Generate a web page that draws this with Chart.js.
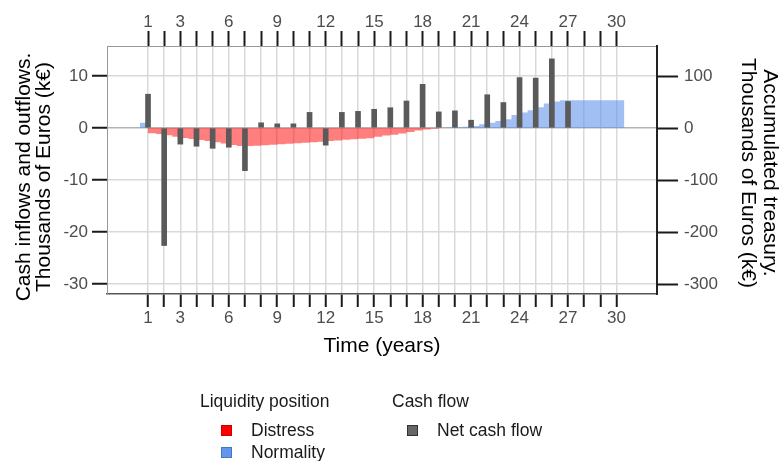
<!DOCTYPE html>
<html>
<head>
<meta charset="utf-8">
<script src="https://cdn.jsdelivr.net/npm/chart.js@4.4.1/dist/chart.umd.min.js"></script>
<style>
html,body{margin:0;padding:0;background:#fff;}
#wrap{position:relative;width:784px;height:461px;font-family:'Liberation Sans',Arial,sans-serif;overflow:hidden;}
#c{position:absolute;left:0;top:0;}
.lg{position:absolute;font-size:17.5px;line-height:20px;color:#1a1a1a;white-space:nowrap;}
.sw{position:absolute;width:11px;height:11px;box-sizing:border-box;}
</style>
</head>
<body>
<div id="wrap">
<canvas id="c" width="784" height="461"></canvas>
<div class="lg" style="left:200px;top:391px">Liquidity position</div>
<div class="lg" style="left:392px;top:391px">Cash flow</div>
<div class="sw" style="left:221px;top:425px;background:#ff0000;border:1px solid #c00"></div>
<div class="lg" style="left:251px;top:420px">Distress</div>
<div class="sw" style="left:221px;top:447px;background:#6495ed;border:1px solid #4a75c0"></div>
<div class="lg" style="left:251px;top:442px">Normality</div>
<div class="sw" style="left:407px;top:425px;background:#666666;border:1px solid #333"></div>
<div class="lg" style="left:437px;top:420px">Net cash flow</div>
</div>
<script>
// ---- data ----
const years = [1,2,3,4,5,6,7,8,9,10,11,12,13,14,15,16,17,18,19,20,21,22,23,24,25,26,27];
const netCashFlow = [6.5,-22.6,-3.1,-3.5,-3.9,-3.7,-8.2,1.0,0.8,0.8,3.0,-3.3,3.0,3.2,3.6,3.9,5.2,8.4,3.1,3.3,1.5,6.4,4.9,9.7,9.6,13.3,5.1];

const treasuryTime = [0.5,1,1.5,2,2.5,3,3.5,4,4.5,5,5.5,6,6.5,7,7.5,8,8.5,9,9.5,10,10.5,11,11.5,12,12.5,13,13.5,14,14.5,15,15.5,16,16.5,17,17.5,18,18.5,19,19.5,20,20.5,21,21.5,22,22.5,23,23.5,24,24.5,25,25.5,26,26.5,27,27.5,28,28.5,29,29.5,30,30.5];
const accumulatedTreasury = [10,10,-10,-11.5,-14,-16.7,-19,-21,-23,-25,-27.5,-30,-32.7,-34.5,-34.5,-34,-33,-32,-31.4,-30.5,-29.5,-28.5,-27.5,-26.5,-25,-24,-22.5,-21.5,-20.5,-19.5,-17,-14.5,-13,-10.5,-7.5,-5,-3,-1.5,0.5,1,1.3,2.5,4,7,10,13.5,17,25,30,34,40,47,51,53.5,53.5,53.5,53.5,53.5,53.5,53.5,53.5];

const xTickValues = [1,2,3,4,5,6,7,8,9,10,11,12,13,14,15,16,17,18,19,20,21,22,23,24,25,26,27,28,29,30];
const xTickLabels = [1,3,6,9,12,15,18,21,24,27,30];
const leftTicks = [10,0,-10,-20,-30];
const rightTicks = [100,0,-100,-200,-300];

const xTitle = 'Time (years)';
const leftTitle = ['Cash inflows and outflows.', 'Thousands of Euros (k€)'];
const rightTitle = ['Accumulated treasury.', 'Thousands of Euros (k€)'];

// ---- chart ----
const FAM = "'Liberation Sans', Arial, sans-serif";
const tickFont = {family: FAM, size: 17};
const gridColor = '#d9d9d9';

const titlePlugin = {
  id: 'axisTitles',
  afterDraw(chart) {
    const ctx = chart.ctx, a = chart.chartArea;
    ctx.save();
    ctx.fillStyle = '#000';
    ctx.font = '21px ' + FAM;
    ctx.textAlign = 'center';
    ctx.textBaseline = 'middle';
    ctx.fillText(xTitle, (a.left + a.right) / 2, 346);
    ctx.save();
    ctx.translate(24, 177);
    ctx.rotate(-Math.PI / 2);
    ctx.fillText(leftTitle[0], 0, 0);
    ctx.fillText(leftTitle[1], 0, 20);
    ctx.restore();
    ctx.save();
    ctx.translate(770, 173);
    ctx.rotate(Math.PI / 2);
    ctx.fillText(rightTitle[0], 0, 0);
    ctx.fillText(rightTitle[1], 0, 22);
    ctx.restore();
    ctx.restore();
  }
};

const xLabelCb = (v) => xTickLabels.includes(v) ? String(v) : '';

new Chart(document.getElementById('c'), {
  type: 'bar',
  data: {
    datasets: [
      {
        type: 'bar',
        label: 'Net cash flow',
        data: years.map((t, i) => ({x: t, y: netCashFlow[i]})),
        backgroundColor: '#5a5a5a',
        borderWidth: 0,
        barThickness: 5,
        xAxisID: 'x',
        yAxisID: 'y',
        order: 0
      },
      {
        type: 'line',
        label: 'Accumulated treasury',
        data: treasuryTime.map((t, i) => ({x: t, y: accumulatedTreasury[i]})),
        stepped: 'after',
        borderWidth: 0,
        borderColor: 'rgba(0,0,0,0)',
        pointRadius: 0,
        fill: {target: 'origin', above: 'rgba(100,149,237,0.6)', below: 'rgba(255,0,0,0.5)'},
        xAxisID: 'x',
        yAxisID: 'y2',
        order: 1
      }
    ]
  },
  options: {
    responsive: false,
    devicePixelRatio: 1,
    animation: false,
    layout: {padding: 0},
    plugins: {legend: {display: false}, tooltip: {enabled: false}},
    scales: {
      x: {
        type: 'linear', position: 'bottom', min: -1.54, max: 32.51, offset: false,
        afterBuildTicks: (s) => { s.ticks = xTickValues.map(v => ({value: v})); },
        afterFit: (s) => { s.height = 167; },
        ticks: {autoSkip: false, maxRotation: 0, minRotation: 0, padding: 1, color: '#4d4d4d', font: tickFont, callback: xLabelCb},
        grid: {offset: false, color: gridColor, lineWidth: 1.5, tickLength: 13, tickColor: '#1a1a1a', tickWidth: 2},
        border: {display: true, color: '#555', width: 1.5}
      },
      xTop: {
        type: 'linear', position: 'top', min: -1.54, max: 32.51, offset: false,
        afterBuildTicks: (s) => { s.ticks = xTickValues.map(v => ({value: v})); },
        afterFit: (s) => { s.height = 46; },
        ticks: {autoSkip: false, maxRotation: 0, minRotation: 0, padding: -2, color: '#4d4d4d', font: tickFont, callback: xLabelCb},
        grid: {offset: false, drawOnChartArea: false, tickLength: 15, tickColor: '#1a1a1a', tickWidth: 2},
        border: {display: true, color: '#999', width: 1}
      },
      y: {
        type: 'linear', position: 'left', min: -31.92, max: 15.77,
        afterBuildTicks: (s) => { s.ticks = leftTicks.map(v => ({value: v})); },
        afterFit: (s) => { s.width = 107; },
        ticks: {padding: 4, color: '#4d4d4d', font: tickFont},
        grid: {color: (c) => (c.tick && c.tick.value === 0) ? '#b3b3b3' : gridColor, lineWidth: 1.5, tickLength: 15, tickColor: '#1a1a1a', tickWidth: 2},
        border: {display: true, color: '#999', width: 1}
      },
      y2: {
        type: 'linear', position: 'right', min: -319.2, max: 157.7,
        afterBuildTicks: (s) => { s.ticks = rightTicks.map(v => ({value: v})); },
        afterFit: (s) => { s.width = 127; },
        ticks: {padding: 6, color: '#4d4d4d', font: tickFont},
        grid: {drawOnChartArea: false, tickLength: 21, tickColor: '#1a1a1a', tickWidth: 2},
        border: {display: true, color: '#222', width: 2}
      }
    }
  },
  plugins: [titlePlugin]
});
</script>
</body>
</html>
